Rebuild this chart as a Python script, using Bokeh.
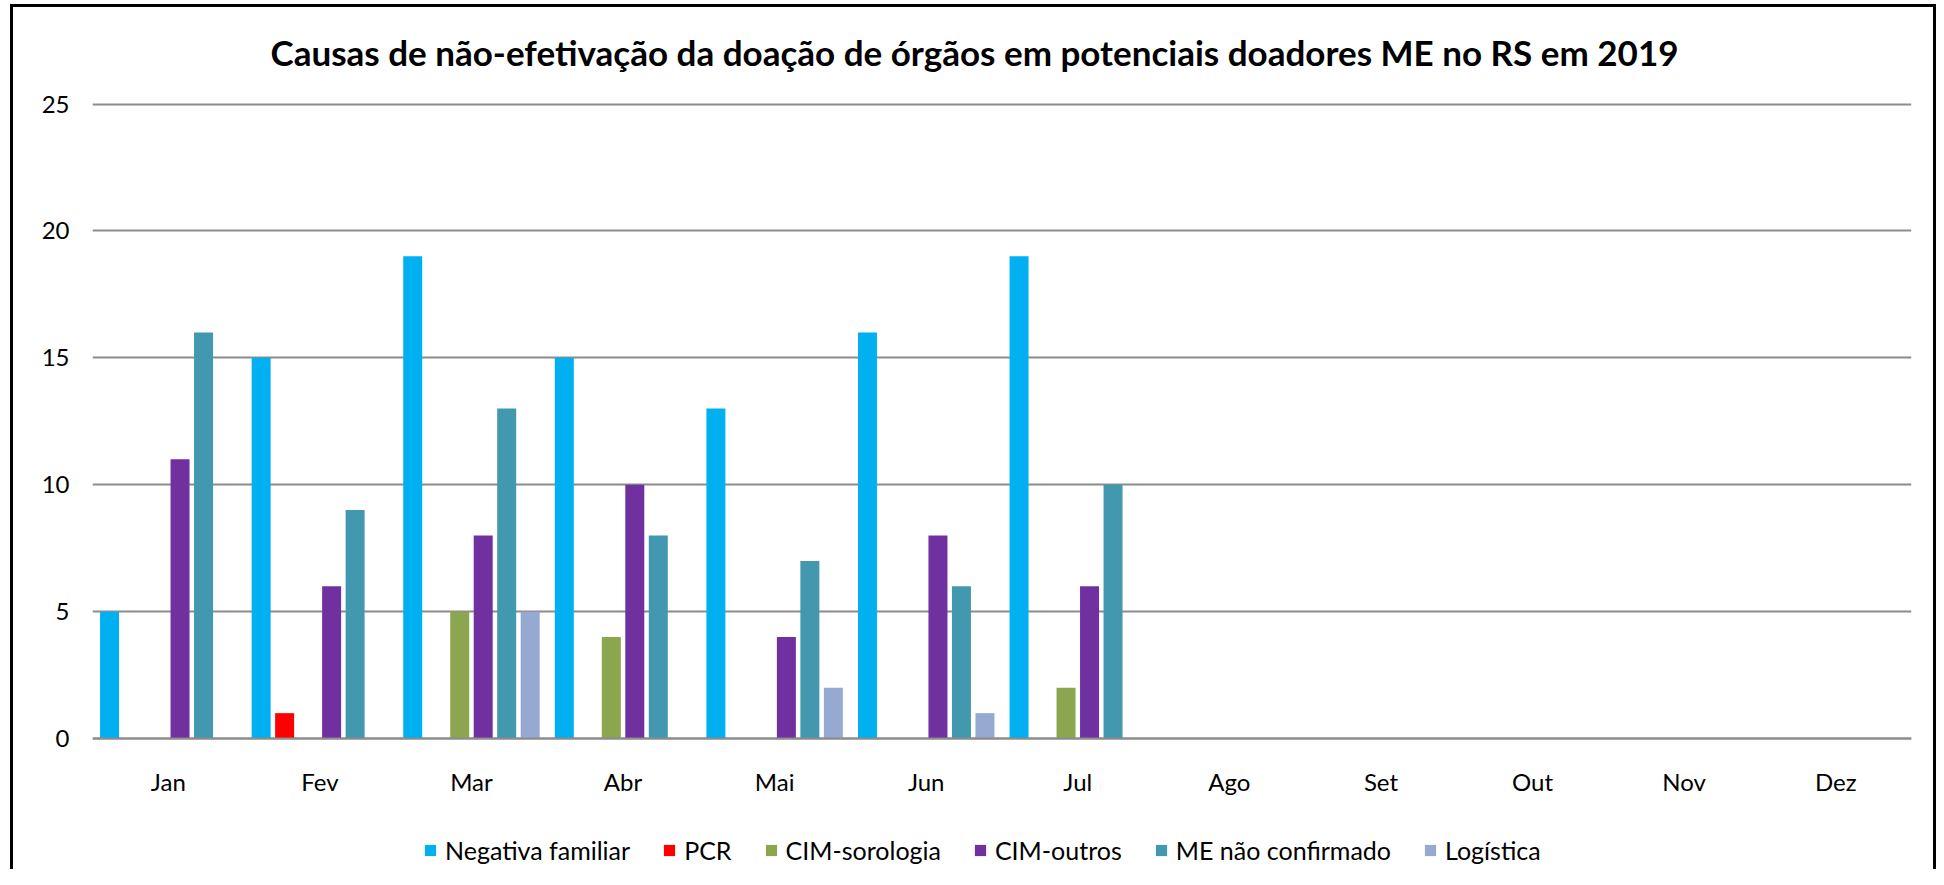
from bokeh.plotting import figure
from bokeh.models import FactorRange, Range1d, FixedTicker, Legend, LegendItem, ColumnDataSource, Title
from bokeh.transform import dodge
from bokeh.embed import file_html
from bokeh.resources import INLINE

months = ["Jan", "Fev", "Mar", "Abr", "Mai", "Jun", "Jul", "Ago", "Set", "Out", "Nov", "Dez"]
series_names = ["Negativa familiar", "PCR", "CIM-sorologia", "CIM-outros", "ME não confirmado", "Logística"]
negativa_familiar = [5, 15, 19, 15, 13, 16, 19, 0, 0, 0, 0, 0]
pcr = [0, 1, 0, 0, 0, 0, 0, 0, 0, 0, 0, 0]
cim_sorologia = [0, 0, 5, 4, 0, 0, 2, 0, 0, 0, 0, 0]
cim_outros = [11, 6, 8, 10, 4, 8, 6, 0, 0, 0, 0, 0]
me_nao_confirmado = [16, 9, 13, 8, 7, 6, 10, 0, 0, 0, 0, 0]
logistica = [0, 0, 5, 0, 2, 1, 0, 0, 0, 0, 0, 0]
y_ticks = [0, 5, 10, 15, 20, 25]
title_text = "Causas de não-efetivação  da doação de órgãos em potenciais doadores ME  no RS em 2019"

colors = ["#00B0F0", "#FF0000", "#8BA64E", "#7030A0", "#4298AF", "#96A9D1"]
keys = ["negativa", "pcr", "sorologia", "outros", "me", "logistica"]
series_values = [negativa_familiar, pcr, cim_sorologia, cim_outros, me_nao_confirmado, logistica]

data = {"month": months}
for k, v in zip(keys, series_values):
    data[k] = v
source = ColumnDataSource(data)

FONT = "Lato"
GRID = "#8C8C8C"

frame_bg = ("linear-gradient(#000,#000) 10px 4px / 3px 100% no-repeat, "
            "linear-gradient(#000,#000) 10px 4px / 1926px 3px no-repeat, "
            "linear-gradient(#000,#000) 1933px 4px / 3px 100% no-repeat, #ffffff")

p = figure(
    x_range=FactorRange(*months),
    y_range=Range1d(-5.16, 25.1),
    width=1936, height=869,
    output_backend="svg", toolbar_location=None,
    min_border_left=92, min_border_right=25,
    min_border_top=101, min_border_bottom=0,
    styles={"background": frame_bg},
)
p.border_fill_color = None
p.background_fill_color = "white"
p.outline_line_color = None

p.title = Title(text=title_text, align="left", text_font=FONT,
                text_font_style="bold", text_font_size="35px", text_color="black",
                standoff=57, offset=178)

step = 0.155
bar_w = 0.1253
renderers = []
for i, (k, c) in enumerate(zip(keys, colors)):
    off = (i - 2.5) * step
    r = p.vbar(x=dodge("month", off, range=p.x_range), top=k, width=bar_w, source=source,
               fill_color=c, line_color=None)
    renderers.append(r)

ticker = FixedTicker(ticks=y_ticks)
p.xgrid.grid_line_color = None
p.ygrid.ticker = ticker
p.ygrid.grid_line_color = GRID
p.ygrid.grid_line_width = 2
p.yaxis.ticker = ticker
p.yaxis.axis_line_color = None
p.yaxis.major_tick_line_color = None
p.yaxis.minor_tick_line_color = None
p.yaxis.major_label_standoff = 17
p.yaxis.major_label_text_font = FONT
p.yaxis.major_label_text_font_size = "24px"
p.yaxis.major_label_text_color = "black"

p.xaxis.fixed_location = 0
p.xaxis.axis_line_color = GRID
p.xaxis.axis_line_width = 2
p.xaxis.major_tick_line_color = None
p.xaxis.minor_tick_line_color = None
p.xaxis.major_label_standoff = 22
p.xaxis.major_label_text_font = FONT
p.xaxis.major_label_text_font_size = "24px"
p.xaxis.major_label_text_color = "black"

legend = Legend(
    items=[LegendItem(label=n, renderers=[r]) for n, r in zip(series_names, renderers)],
    orientation="horizontal", location=(331, 4),
    glyph_width=14, glyph_height=14, label_standoff=8, spacing=32,
    padding=0, margin=0, border_line_color=None, background_fill_alpha=0,
    label_text_font=FONT, label_text_font_size="25px", label_text_color="black",
)
p.add_layout(legend, "center")

open("out.html", "w").write(file_html(p, INLINE))
